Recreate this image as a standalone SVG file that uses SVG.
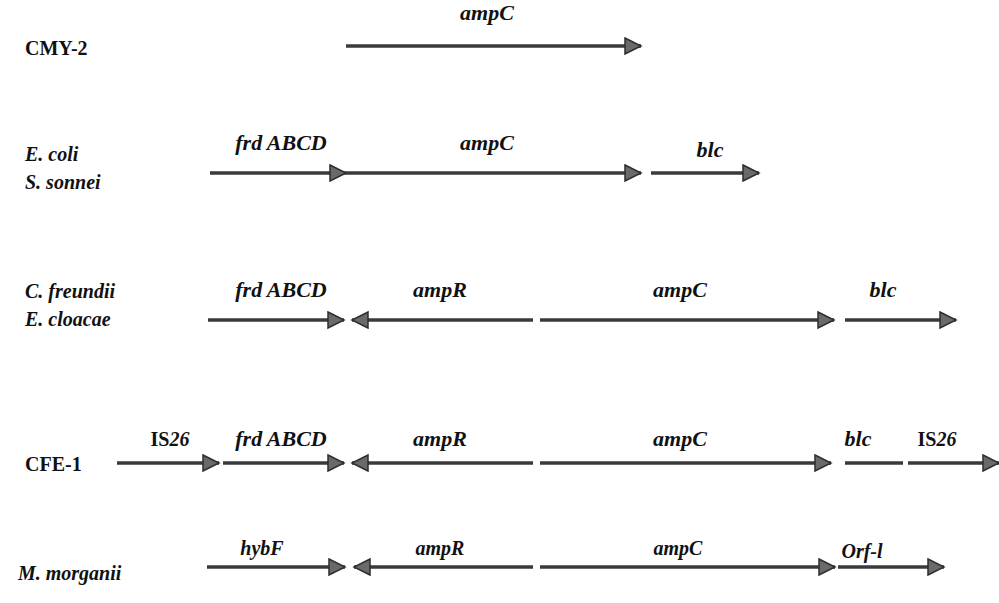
<svg xmlns="http://www.w3.org/2000/svg" width="999" height="603" viewBox="0 0 999 603" font-family="'Liberation Serif', 'DejaVu Serif', serif">
<defs>
<marker id="ah" markerUnits="userSpaceOnUse" markerWidth="20" markerHeight="20" refX="17" refY="9" orient="auto">
<path d="M1,1 L17,9 L1,17 Z" fill="#6a6a6a" stroke="#2e2e2e" stroke-width="1.5"/>
</marker>
</defs>
<style>
text{fill:#111}
.g{stroke:#3a3a3a;stroke-width:3.5;fill:none}
.a{marker-end:url(#ah)}
.lb{font-style:italic;font-weight:bold;font-size:22px;text-anchor:middle}
.ln{font-style:italic;font-weight:bold;font-size:20px;text-anchor:middle}
.sp{font-style:italic;font-weight:bold;font-size:20px}
.sn{font-weight:bold;font-size:20px}
</style>
<rect width="999" height="603" fill="#fff"/>

<g id="row-cmy2">
<text class="sn" x="25" y="55">CMY-2</text>
<text class="lb" x="487" y="20">ampC</text>
</g>
<g id="row-ecoli">
<text class="sp" x="25" y="161">E. coli</text>
<text class="sp" x="25" y="189">S. sonnei</text>
<text class="lb" x="281" y="150">frd ABCD</text>
<text class="lb" x="487" y="150">ampC</text>
<text class="lb" x="710" y="157">blc</text>
</g>
<g id="row-cfreundii">
<text class="sp" x="25" y="298">C. freundii</text>
<text class="sp" x="25" y="326">E. cloacae</text>
<text class="lb" x="281" y="297">frd ABCD</text>
<text class="lb" x="440" y="297">ampR</text>
<text class="lb" x="680" y="297">ampC</text>
<text class="lb" x="883" y="297">blc</text>
</g>
<g id="row-cfe1">
<text class="sn" x="25" y="471">CFE-1</text>
<text class="sn" x="170" y="446" text-anchor="middle">IS<tspan font-style="italic">26</tspan></text>
<text class="lb" x="281" y="446">frd ABCD</text>
<text class="lb" x="440" y="446">ampR</text>
<text class="lb" x="680" y="446">ampC</text>
<text class="lb" x="858" y="446">blc</text>
<text class="sn" x="937" y="446" text-anchor="middle">IS<tspan font-style="italic">26</tspan></text>
</g>
<g id="row-mmorganii">
<text class="sp" x="18" y="580">M. morganii</text>
<text class="ln" x="262" y="555">hybF</text>
<text class="ln" x="440" y="555">ampR</text>
<text class="ln" x="678" y="555">ampC</text>
<text class="ln" x="862" y="558">Orf-l</text>
</g>

<g id="connectors">
<line class="g a" x1="346" y1="46" x2="641" y2="46"/>

<line class="g a" x1="210" y1="173" x2="346" y2="173"/>
<line class="g a" x1="346" y1="173" x2="641" y2="173"/>
<line class="g a" x1="651" y1="173" x2="759" y2="173"/>

<line class="g a" x1="208" y1="320" x2="344" y2="320"/>
<line class="g a" x1="533" y1="320" x2="352" y2="320"/>
<line class="g a" x1="540" y1="320" x2="834" y2="320"/>
<line class="g a" x1="845" y1="320" x2="956" y2="320"/>

<line class="g a" x1="117" y1="463" x2="219" y2="463"/>
<line class="g a" x1="223" y1="463" x2="344" y2="463"/>
<line class="g a" x1="533" y1="463" x2="352" y2="463"/>
<line class="g a" x1="540" y1="463" x2="831" y2="463"/>
<line class="g" x1="845" y1="463" x2="903" y2="463"/>
<line class="g a" x1="908" y1="463" x2="999" y2="463"/>

<line class="g a" x1="207" y1="567" x2="345" y2="567"/>
<line class="g a" x1="533" y1="567" x2="354" y2="567"/>
<line class="g a" x1="540" y1="567" x2="835" y2="567"/>
<line class="g a" x1="838" y1="567" x2="944" y2="567"/>
</g>
</svg>
